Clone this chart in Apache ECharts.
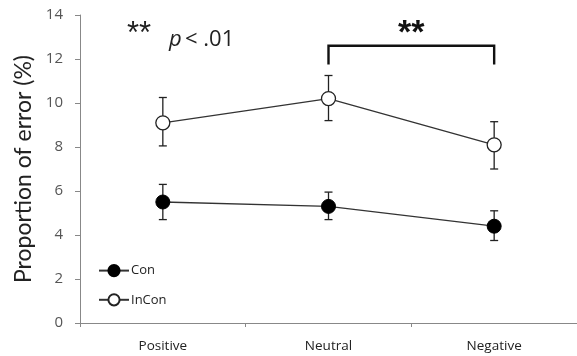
<!DOCTYPE html>
<html>
<head>
<meta charset="utf-8">
<script src="https://cdn.jsdelivr.net/npm/echarts@6/dist/echarts.min.js"></script>
<style>
  html, body { margin: 0; padding: 0; background: #fff; }
  #main { width: 577px; height: 356px; }
</style>
</head>
<body>
<div id="main"></div>
<script>
var categories = ['Positive', 'Neutral', 'Negative'];
var conMean = [5.5, 5.3, 4.4];
var conLow = [4.7, 4.7, 3.75];
var conHigh = [6.3, 5.95, 5.1];
var inconMean = [9.1, 10.2, 8.1];
var inconLow = [8.05, 9.2, 7.0];
var inconHigh = [10.25, 11.25, 9.15];
// bracket between Neutral and Negative
var bracketFrom = 1, bracketTo = 2;
var bracketTop = 12.6, bracketLeg = 11.75, starsY = 13.15;

function errData(low, high) {
	var out = [];
	for (var i = 0; i < low.length; i++) {
		out.push([i, low[i], high[i]]);
	}
	return out;
}

function renderErr(params, api) {
	var x = api.value(0);
	var lo = api.coord([x, api.value(1)]);
	var hi = api.coord([x, api.value(2)]);
	var cap = 4;
	var st = { stroke: '#222', lineWidth: 1.3 };
	return {
		type: 'group',
		children: [
			{ type: 'line', shape: { x1: hi[0], y1: hi[1], x2: lo[0], y2: lo[1] }, style: st },
			{ type: 'line', shape: { x1: hi[0] - cap, y1: hi[1], x2: hi[0] + cap, y2: hi[1] }, style: st },
			{ type: 'line', shape: { x1: lo[0] - cap, y1: lo[1], x2: lo[0] + cap, y2: lo[1] }, style: st }
		]
	};
}

function renderBracket(params, api) {
	var a = api.coord([bracketFrom, bracketTop]);
	var b = api.coord([bracketTo, bracketTop]);
	var aLeg = api.coord([bracketFrom, bracketLeg]);
	var bLeg = api.coord([bracketTo, bracketLeg]);
	var sy = api.coord([bracketFrom, starsY])[1];
	var st = { stroke: '#111', lineWidth: 2.4, fill: null };
	return {
		type: 'group',
		children: [
			{ type: 'polyline', shape: { points: [aLeg, a, b, bLeg] }, style: st },
			{ type: 'text', x: (a[0] + b[0]) / 2, y: sy, style: { text: '**', font: 'bold 34px "Liberation Sans"', fill: '#111', align: 'center', verticalAlign: 'middle' } }
		]
	};
}

var dom = document.getElementById('main');
var myChart = echarts.init(dom);

var option = {
	animation: false,
	backgroundColor: '#fff',
	grid: {
		left: 80,
		top: 15,
		width: 506,
		bottom: 33
	},
	legend: {
		orient: 'vertical',
		left: 93,
		top: 259,
		itemWidth: 30,
		itemHeight: 14,
		itemGap: 16,
		data: ['Con', 'InCon'],
		textStyle: { fontSize: 13, color: '#222', fontFamily: 'Open Sans', padding: [0, 0, 0, -3] }
	},
	graphic: [
		{
			type: 'text',
			left: 127,
			top: 19,
			style: { text: '**', font: '31px "Liberation Sans"', fill: '#222' }
		},
		{
			type: 'text',
			left: 169,
			top: 29,
			style: {
				rich: {
					p: { fontSize: 22, fontFamily: 'Open Sans', fontStyle: 'italic', fill: '#222' },
					t: { fontSize: 22, fontFamily: 'Open Sans', fill: '#222' }
				},
				text: '{p|p} {t|< .01}'
			}
		}
	],
	xAxis: {
		type: 'category',
		data: categories,
		axisLine: { lineStyle: { color: '#888', width: 1 } },
		axisTick: { show: true, length: 4, lineStyle: { color: '#888' } },
		axisLabel: { margin: 16, fontSize: 13.5, color: '#222', fontFamily: 'Open Sans' }
	},
	yAxis: {
		type: 'value',
		min: 0,
		max: 14,
		interval: 2,
		name: 'Proportion of error (%)',
		nameLocation: 'middle',
		nameGap: 35,
		nameTextStyle: { fontSize: 23, color: '#222', fontFamily: 'Lato' },
		splitLine: { show: false },
		axisLine: { show: true, lineStyle: { color: '#888', width: 1 } },
		axisTick: { show: true, length: 5, lineStyle: { color: '#888' } },
		axisLabel: { margin: 17, fontSize: 15, color: '#555', fontFamily: 'Open Sans' }
	},
	series: [
		{
			name: 'ConErr',
			type: 'custom',
			renderItem: renderErr,
			data: errData(conLow, conHigh),
			z: 1,
			silent: true
		},
		{
			name: 'InConErr',
			type: 'custom',
			renderItem: renderErr,
			data: errData(inconLow, inconHigh),
			z: 1,
			silent: true
		},
		{
			name: 'Con',
			type: 'line',
			data: conMean,
			symbol: 'circle',
			symbolSize: 14,
			lineStyle: { color: '#333', width: 1.3 },
			itemStyle: { color: '#000', borderColor: '#000', borderWidth: 1 },
			z: 3
		},
		{
			name: 'InCon',
			type: 'line',
			data: inconMean,
			symbol: 'circle',
			symbolSize: 14,
			lineStyle: { color: '#333', width: 1.3 },
			itemStyle: { color: '#fff', borderColor: '#222', borderWidth: 1.3 },
			z: 3
		},
		{
			name: 'bracket',
			type: 'custom',
			renderItem: renderBracket,
			data: [[0]],
			silent: true,
			clip: false
		}
	]
};

myChart.setOption(option);
</script>
</body>
</html>
